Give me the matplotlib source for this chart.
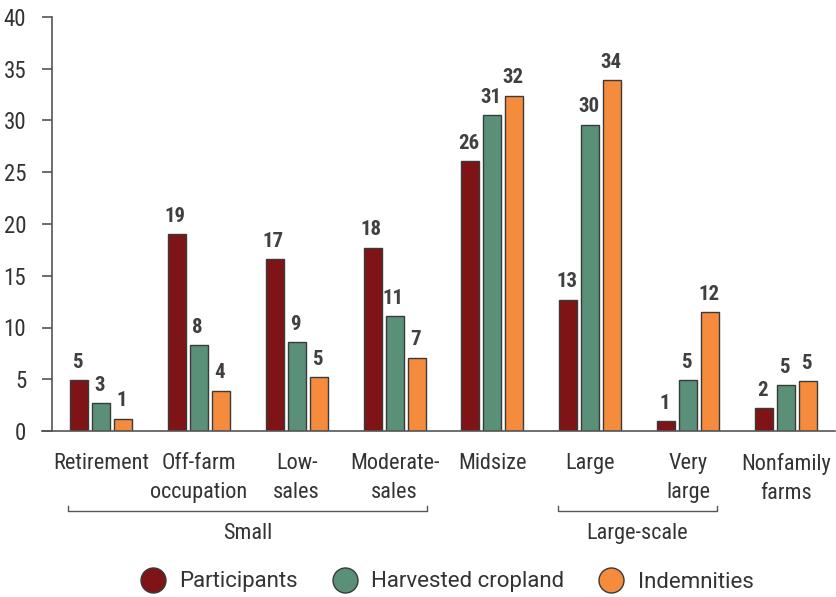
import matplotlib
matplotlib.use('Agg')
import matplotlib.pyplot as plt
from matplotlib import font_manager
from matplotlib.lines import Line2D
import numpy as np

# data
categories = ['Retirement', 'Off-farm\noccupation', 'Low-\nsales', 'Moderate-\nsales',
              'Midsize', 'Large', 'Very\nlarge', 'Nonfamily\nfarms']
participants = [4.9, 19.0, 16.6, 17.7, 26.1, 12.7, 0.95, 2.2]
cropland = [2.7, 8.3, 8.6, 11.1, 30.5, 29.6, 4.9, 4.4]
indemnities = [1.2, 3.9, 5.2, 7.1, 32.4, 33.9, 11.5, 4.8]
# printed labels (rounded in the source)
participants_lbl = [5, 19, 17, 18, 26, 13, 1, 2]
cropland_lbl = [3, 8, 9, 11, 31, 30, 5, 5]
indemnities_lbl = [1, 4, 5, 7, 32, 34, 12, 5]
series_names = ['Participants', 'Harvested cropland', 'Indemnities']
colors = ['#7f1416', '#5a8f78', '#f58b3c']
yticks = [0, 5, 10, 15, 20, 25, 30, 35, 40]

# narrow font with a bold weight, first one found
names = {f.name for f in font_manager.fontManager.ttflist}
wanted = ['Roboto Condensed', 'Liberation Sans Narrow', 'PT Sans Narrow', 'Fira Sans Condensed',
          'IBM Plex Sans Condensed', 'Barlow Condensed', 'Archivo Narrow']
fam = next((n for n in wanted if n in names), 'Roboto')
plt.rcParams['font.family'] = [fam, 'DejaVu Sans']

txt = '#333333'
axc = '#555555'

fig = plt.figure(figsize=(8.37, 5.97), dpi=100)
ax = fig.add_axes([52 / 837, 166 / 597, 783 / 837, 414 / 597])

x = np.arange(len(categories))
w = 0.184
pitch = 0.225
series = [(participants, participants_lbl), (cropland, cropland_lbl), (indemnities, indemnities_lbl)]
for i, (vals, lbls) in enumerate(series):
    pos = x + (i - 1) * pitch
    bars = ax.bar(pos, vals, width=w, color=colors[i], edgecolor='#3a3a3a', linewidth=1.0, zorder=3)
    for b, v, l in zip(bars, vals, lbls):
        ax.annotate(str(l), (b.get_x() + b.get_width() / 2, v),
                    xytext=(-1, 6), textcoords='offset points', ha='center', va='bottom',
                    fontsize=15, fontweight='bold', color='#404040')

ax.set_xlim(-0.5, 7.5)
ax.set_ylim(0, 40)
ax.set_yticks(yticks)
ax.tick_params(axis='y', length=7.5, width=1.2, color=axc, labelsize=16.5, labelcolor=txt, pad=11)
ax.set_xticks(x)
ax.set_xticklabels(categories, fontsize=16, color=txt, va='top')
for t in ax.get_xticklabels():
    t.set_linespacing(1.5)
ax.tick_params(axis='x', length=0, pad=16)
for s in ['top', 'right', 'bottom']:
    ax.spines[s].set_visible(False)
ax.spines['left'].set_color(axc)
ax.spines['left'].set_linewidth(1.2)
ax.plot([-0.6, 7.5], [0, 0], color=axc, lw=1.2, clip_on=False, zorder=4)

# group brackets under the category labels
def bracket(x0, x1, label):
    yb = -80 / 10.35
    tick = 5 / 10.35
    ax.plot([x0, x0, x1, x1], [yb + tick, yb, yb, yb + tick], color=axc, lw=1.0, clip_on=False)
    ax.text((x0 + x1) / 2, yb - 12 / 10.35, label, ha='center', va='top', fontsize=16, color=txt)

bracket(-0.34, 3.33, 'Small')
bracket(4.67, 6.29, 'Large-scale')

handles = [Line2D([], [], marker='o', linestyle='', markersize=18, markerfacecolor=c,
                  markeredgecolor='#3a3a3a', markeredgewidth=1.0) for c in colors]
leg = fig.legend(handles, series_names, loc='center', bbox_to_anchor=(442 / 837, 1 - 582 / 597),
                 ncol=3, frameon=False, fontsize=16, handletextpad=0.2, columnspacing=1.1,
                 labelcolor=txt)
for t in leg.get_texts():
    t.set_fontfamily(['Roboto', 'DejaVu Sans'])

fig.savefig('out.png', dpi=100)
